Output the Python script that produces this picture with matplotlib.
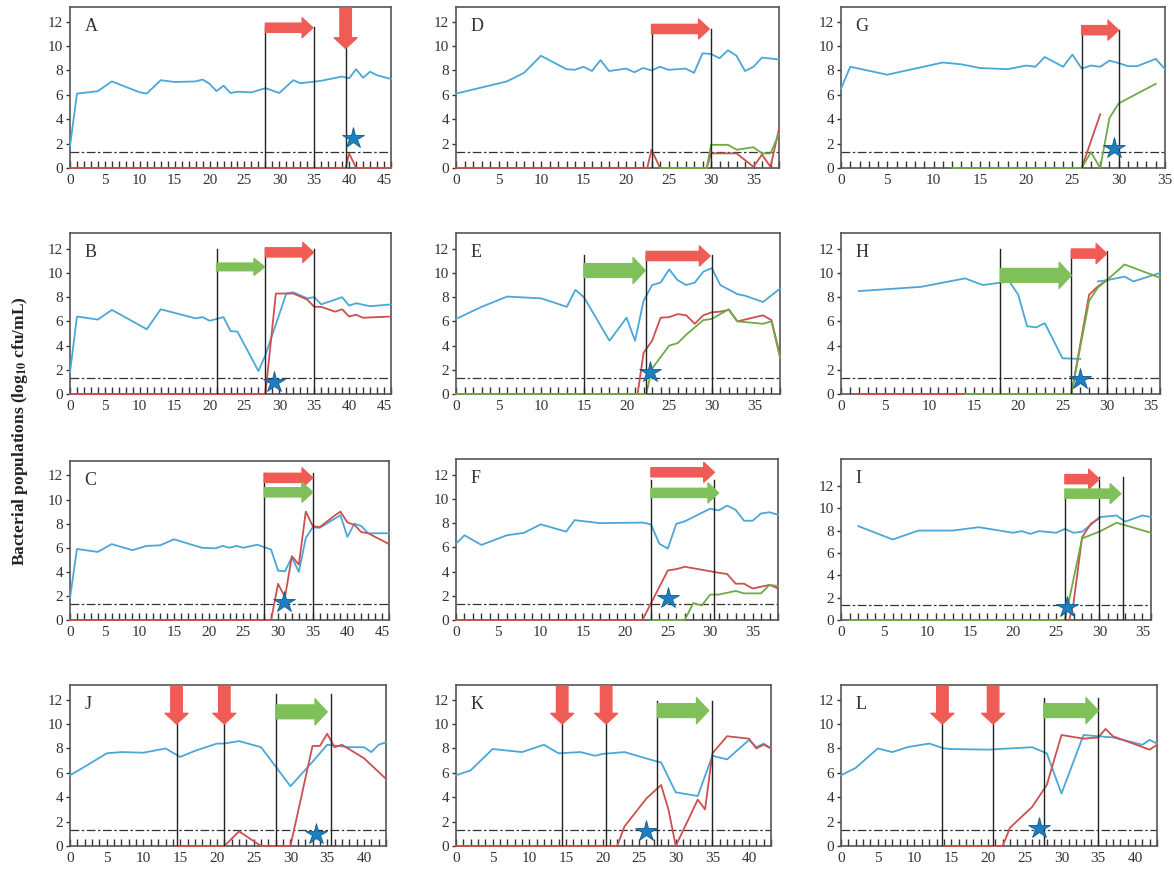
import matplotlib
matplotlib.use("Agg")
import matplotlib.pyplot as plt
import numpy as np

plt.rcParams['font.family'] = ['Liberation Serif', 'DejaVu Serif']
plt.rcParams['mathtext.fontset'] = 'stix'

BLUE = '#4aa7d8'
RED = '#cc5050'
GREEN = '#6faa45'
RED_ARROW = '#ef5c55'
GREEN_ARROW = '#80c05a'
STAR = '#1b80c2'

# ---- data (day, log10 cfu/mL) ----
a_blue_x = [0, 1, 4, 6, 10, 11, 13, 15, 18, 19, 20, 21, 22, 23, 24, 26, 28, 30, 32, 33, 36, 39, 40, 41, 42, 43, 44, 46]
a_blue_y = [1.8, 6.1, 6.3, 7.1, 6.2, 6.1, 7.2, 7.05, 7.1, 7.25, 6.9, 6.3, 6.75, 6.15, 6.25, 6.2, 6.55, 6.15, 7.2, 6.95, 7.15, 7.5, 7.35, 8.1, 7.4, 7.9, 7.6, 7.3]
a_red_x = [0, 39.5, 40, 41, 46]
a_red_y = [0, 0, 1.2, 0, 0]

b_blue_x = [0, 1, 4, 6, 11, 13, 18, 19, 20, 22, 23, 24, 27, 28, 31, 32, 34, 35, 36, 39, 40, 41, 43, 46]
b_blue_y = [1.8, 6.4, 6.15, 6.95, 5.35, 7.0, 6.25, 6.35, 6.05, 6.35, 5.2, 5.15, 1.9, 3.2, 8.3, 8.4, 7.9, 8.0, 7.4, 8.0, 7.3, 7.5, 7.25, 7.4]
b_red_x = [0, 28, 29.5, 32, 34, 35, 36, 38, 39, 40, 41, 42, 46]
b_red_y = [0, 0, 8.3, 8.3, 7.8, 7.2, 7.2, 6.8, 7.0, 6.4, 6.55, 6.3, 6.4]

c_blue_x = [0, 1, 4, 6, 9, 11, 13, 15, 17, 19, 21, 22, 23, 24, 25, 27, 28, 29, 30, 31, 32, 33, 34, 35, 36, 39, 40, 41, 42, 43, 46]
c_blue_y = [1.8, 5.9, 5.65, 6.3, 5.8, 6.15, 6.2, 6.7, 6.35, 6.0, 5.95, 6.15, 6.0, 6.15, 6.0, 6.25, 6.05, 5.85, 4.1, 4.05, 5.2, 4.0, 6.8, 7.7, 7.65, 8.7, 6.9, 8.0, 7.8, 7.2, 7.2]
c_red_x = [0, 29, 30, 31, 32, 33, 34, 35, 36, 38, 39, 40, 41, 42, 43, 46]
c_red_y = [0, 0, 3.0, 1.9, 5.3, 4.6, 9.0, 7.8, 7.7, 8.6, 9.0, 8.1, 7.9, 7.3, 7.2, 6.3]

d_blue_x = [0, 6, 8, 10, 13, 14, 15, 16, 17, 18, 20, 21, 22, 23, 24, 25, 27, 28, 29, 30, 31, 32, 33, 34, 35, 36, 38]
d_blue_y = [6.1, 7.1, 7.8, 9.2, 8.1, 8.05, 8.3, 7.95, 8.85, 7.95, 8.15, 7.85, 8.2, 8.0, 8.3, 8.05, 8.15, 7.8, 9.4, 9.35, 9.0, 9.65, 9.2, 7.95, 8.3, 9.05, 8.9]
d_red_x = [0, 22.5, 23, 24, 29.5, 30, 33, 35, 36, 37, 38]
d_red_y = [0, 0, 1.5, 0, 0, 1.2, 1.2, 0.1, 1.1, 0.1, 3.2]
d_green_x = [24, 29.5, 30, 32, 33, 35, 36, 37, 38]
d_green_y = [0, 0, 1.9, 1.9, 1.5, 1.7, 1.2, 1.2, 2.8]

e_blue_x = [0, 3, 6, 10, 13, 14, 15, 18, 20, 21, 22, 23, 24, 25, 26, 27, 28, 29, 30, 31, 33, 34, 36, 38]
e_blue_y = [6.2, 7.2, 8.05, 7.9, 7.2, 8.6, 8.0, 4.4, 6.3, 4.4, 7.7, 9.0, 9.2, 10.3, 9.4, 9.0, 9.2, 10.1, 10.4, 9.0, 8.25, 8.1, 7.6, 8.7]
e_red_x = [0, 21.3, 22, 23, 24, 25, 26, 27, 28, 29, 30, 31, 32, 33, 36, 37, 38]
e_red_y = [0, 0, 3.4, 4.4, 6.3, 6.35, 6.6, 6.5, 5.8, 6.5, 6.75, 6.8, 6.95, 6.0, 6.5, 6.1, 3.2]
e_green_x = [0, 22.3, 23, 25, 26, 27, 28, 29, 30, 31, 32, 33, 36, 37, 38]
e_green_y = [0, 0, 2.1, 4.0, 4.2, 4.9, 5.5, 6.1, 6.2, 6.6, 7.0, 6.0, 5.8, 6.0, 3.0]

f_blue_x = [0, 1, 3, 6, 8, 10, 13, 14, 17, 22, 23, 24, 25, 26, 27, 30, 31, 32, 33, 34, 35, 36, 37, 38]
f_blue_y = [6.3, 7.0, 6.2, 7.0, 7.2, 7.9, 7.3, 8.25, 8.0, 8.05, 7.9, 6.3, 5.9, 7.95, 8.15, 9.2, 9.05, 9.45, 9.1, 8.2, 8.2, 8.8, 8.9, 8.7]
f_red_x = [0, 22, 25, 26, 27, 31, 32, 33, 34, 35, 37, 38]
f_red_y = [0, 0, 4.1, 4.2, 4.4, 3.9, 3.8, 3.0, 3.0, 2.6, 2.9, 2.6]
f_green_x = [23, 27, 28, 29, 30, 31, 33, 34, 36, 37, 38]
f_green_y = [0, 0, 1.4, 1.2, 2.1, 2.1, 2.4, 2.2, 2.2, 2.9, 2.8]

g_blue_x = [0, 1, 5, 11, 13, 15, 18, 20, 21, 22, 24, 25, 26, 27, 28, 29, 30, 31, 32, 34, 35]
g_blue_y = [6.5, 8.3, 7.65, 8.65, 8.5, 8.2, 8.1, 8.4, 8.3, 9.1, 8.3, 9.3, 8.15, 8.4, 8.3, 8.8, 8.6, 8.35, 8.35, 8.95, 8.1]
g_red_x = [26, 28]
g_red_y = [0, 4.4]
g_green_x = [12, 26, 27, 28, 29, 30, 34]
g_green_y = [0, 0, 1.3, 0, 4.1, 5.3, 6.9]

h_blue_x = [2, 9, 14, 16, 19, 20, 21, 22, 23, 25, 27, np.nan, 29, 30, 32, 33, 36]
h_blue_y = [8.5, 8.85, 9.55, 9.0, 9.3, 8.2, 5.6, 5.5, 5.85, 2.95, 2.9, np.nan, 9.3, 9.4, 9.7, 9.3, 10.0]
h_red_x = [2, 14, 26, 28, 29, 30]
h_red_y = [0, 0, 0, 8.2, 8.9, 9.4]
h_green_x = [14, 26, 28, 29, 30, 32, 36]
h_green_y = [0, 0, 7.7, 8.8, 9.4, 10.7, 9.6]

i_blue_x = [2, 6, 9, 13, 16, 20, 21, 22, 23, 25, 26, 27, 28, 29, 30, 32, 33, 35, 36]
i_blue_y = [8.4, 7.2, 8.0, 8.0, 8.3, 7.8, 7.95, 7.7, 7.95, 7.8, 8.15, 7.8, 7.9, 8.5, 9.2, 9.35, 8.8, 9.35, 9.2]
i_red_x = [26.5, 27, 28, 29, 30]
i_red_y = [0, 1.5, 7.4, 8.6, 9.1]
i_green_x = [1, 26, 28, 30, 32, 36]
i_green_y = [0, 0, 7.3, 7.9, 8.7, 7.8]

j_blue_x = [0, 2, 5, 7, 10, 13, 15, 17, 20, 21, 23, 26, 28, 30, 33, 35, 38, 40, 41, 42, 43]
j_blue_y = [5.8, 6.5, 7.6, 7.7, 7.65, 8.0, 7.3, 7.8, 8.4, 8.4, 8.6, 8.1, 6.5, 4.9, 6.9, 8.3, 8.1, 8.1, 7.7, 8.3, 8.5]
j_red_x = [14.5, 21, 23, 26, 30, 33, 34, 35, 36, 37, 40, 43]
j_red_y = [0, 0, 1.2, 0, 0, 8.2, 8.2, 9.2, 8.1, 8.3, 7.2, 5.5]

k_blue_x = [0, 2, 5, 9, 12, 14, 17, 19, 20, 23, 27, 28, 30, 33, 35, 37, 40, 41, 42, 43]
k_blue_y = [5.8, 6.2, 7.95, 7.7, 8.3, 7.6, 7.7, 7.4, 7.55, 7.7, 7.0, 6.85, 4.4, 4.1, 7.4, 7.1, 8.7, 8.1, 8.4, 8.0]
k_red_x = [0, 22, 23, 26, 28, 29, 30, 33, 34, 35, 37, 40, 41, 42, 43]
k_red_y = [0, 0, 1.6, 3.9, 5.0, 3.0, 0, 3.8, 3.0, 7.6, 9.0, 8.8, 8.0, 8.3, 8.0]

l_blue_x = [0, 1, 2, 5, 7, 9, 12, 14, 15, 20, 23, 26, 28, 30, 33, 35, 37, 41, 42, 43]
l_blue_y = [5.8, 6.1, 6.4, 8.0, 7.7, 8.1, 8.4, 8.0, 7.95, 7.9, 8.0, 8.1, 7.6, 4.3, 9.1, 9.0, 8.9, 8.3, 8.7, 8.4]
l_red_x = [14, 22, 23, 26, 28, 30, 33, 35, 36, 37, 42, 43]
l_red_y = [0, 0, 1.5, 3.2, 5.0, 9.1, 8.8, 8.9, 9.6, 9.0, 7.9, 8.3]

# star markers (day, value)
star_pts = {'A': (40.5, 2.5), 'B': (29.3, 1.0), 'C': (30.8, 1.5), 'D': None,
            'E': (22.7, 1.8), 'F': (25, 1.8), 'G': (29.5, 1.6), 'H': (27, 1.2),
            'I': (26.2, 1.2), 'J': (33.5, 1.0), 'K': (26, 1.2), 'L': (27, 1.5)}
detect_limit = 1.3

W, H = 1174, 871
fig = plt.figure(figsize=(W / 100, H / 100), dpi=100)


def pos(l, r, t, b):
    return [l / W, 1 - b / H, (r - l) / W, (b - t) / H]


# panel: (letter, xlim, ymax, box px, series, vlines(x, top), arrows(x0, x1, y, color, kind))
panels = [
    ('A', 46, 13.2, (70, 391, 7, 168),
     [(a_blue_x, a_blue_y, BLUE), (a_red_x, a_red_y, RED)],
     [(28, 11.6), (35, 11.6), (39.5, 10.0)],
     [(28, 34.8, 11.5, RED_ARROW, 'h'), (39.5, 39.5, 9.8, RED_ARROW, 'v')]),
    ('D', 38, 13.2, (456, 779, 7, 168),
     [(d_blue_x, d_blue_y, BLUE), (d_red_x, d_red_y, RED), (d_green_x, d_green_y, GREEN)],
     [(23, 11.4), (30, 11.4)],
     [(23, 29.8, 11.4, RED_ARROW, 'h')]),
    ('G', 35, 13.2, (841, 1165, 7, 168),
     [(g_blue_x, g_blue_y, BLUE), (g_red_x, g_red_y, RED), (g_green_x, g_green_y, GREEN)],
     [(26, 11.3), (30, 11.3)],
     [(26, 30, 11.3, RED_ARROW, 'h')]),
    ('B', 46, 13.3, (70, 391, 233, 394),
     [(b_blue_x, b_blue_y, BLUE), (b_red_x, b_red_y, RED)],
     [(21, 12.0), (28, 12.0), (35, 12.0)],
     [(21, 27.9, 10.5, GREEN_ARROW, 'hs'), (28, 34.9, 11.7, RED_ARROW, 'h')]),
    ('E', 38, 13.3, (456, 780, 233, 394),
     [(e_blue_x, e_blue_y, BLUE), (e_red_x, e_red_y, RED), (e_green_x, e_green_y, GREEN)],
     [(15, 11.5), (22.3, 11.5), (30, 11.5)],
     [(15, 22.2, 10.2, GREEN_ARROW, 'hb'), (22.3, 29.8, 11.4, RED_ARROW, 'h')]),
    ('H', 36, 13.3, (841, 1160, 233, 394),
     [(h_blue_x, h_blue_y, BLUE), (h_red_x, h_red_y, RED), (h_green_x, h_green_y, GREEN)],
     [(18, 12.0), (26, 11.8), (30, 11.8)],
     [(18, 26, 9.8, GREEN_ARROW, 'hb'), (26, 30, 11.6, RED_ARROW, 'h')]),
    ('C', 46, 13.2, (70, 389, 461, 620),
     [(c_blue_x, c_blue_y, BLUE), (c_red_x, c_red_y, RED)],
     [(28, 12.2), (35, 12.2)],
     [(28, 35, 11.8, RED_ARROW, 'h'), (28, 35, 10.6, GREEN_ARROW, 'h')]),
    ('F', 38, 13.3, (456, 778, 459, 620),
     [(f_blue_x, f_blue_y, BLUE), (f_red_x, f_red_y, RED), (f_green_x, f_green_y, GREEN)],
     [(23, 11.6), (30.5, 11.6)],
     [(23, 30.5, 12.2, RED_ARROW, 'h'), (23, 31, 10.5, GREEN_ARROW, 'h')]),
    ('I', 36, 14.4, (841, 1151, 459, 620),
     [(i_blue_x, i_blue_y, BLUE), (i_red_x, i_red_y, RED), (i_green_x, i_green_y, GREEN)],
     [(26, 11.3), (30, 12.8), (32.8, 12.8)],
     [(26, 30, 12.6, RED_ARROW, 'h'), (26, 32.5, 11.3, GREEN_ARROW, 'h')]),
    ('J', 43, 13.2, (70, 386, 685, 846),
     [(j_blue_x, j_blue_y, BLUE), (j_red_x, j_red_y, RED)],
     [(14.5, 10.2), (21, 10.2), (28, 12.5), (35.5, 12.5)],
     [(14.5, 14.5, 10.0, RED_ARROW, 'v'), (21, 21, 10.0, RED_ARROW, 'v'),
      (28, 35, 11.0, GREEN_ARROW, 'hb')]),
    ('K', 43, 13.2, (456, 771, 685, 846),
     [(k_blue_x, k_blue_y, BLUE), (k_red_x, k_red_y, RED)],
     [(14.5, 10.2), (20.5, 10.2), (27.5, 11.9), (35, 11.9)],
     [(14.5, 14.5, 10.0, RED_ARROW, 'v'), (20.5, 20.5, 10.0, RED_ARROW, 'v'),
      (27.5, 34.5, 11.1, GREEN_ARROW, 'hb')]),
    ('L', 43, 13.2, (841, 1157, 685, 846),
     [(l_blue_x, l_blue_y, BLUE), (l_red_x, l_red_y, RED)],
     [(13.8, 10.2), (20.7, 10.2), (27.6, 12.1), (35, 12.1)],
     [(13.8, 13.8, 10.0, RED_ARROW, 'v'), (20.7, 20.7, 10.0, RED_ARROW, 'v'),
      (27.6, 35, 11.1, GREEN_ARROW, 'hb')]),
]

arrow_styles = {
    'h': "simple,head_length=0.7,head_width=1.3,tail_width=0.6",
    'hs': "simple,head_length=0.7,head_width=1.1,tail_width=0.5",
    'hb': "simple,head_length=0.8,head_width=1.7,tail_width=0.9",
    'v': "simple,head_length=0.7,head_width=1.5,tail_width=0.75",
}

for letter, xmax, ymax, box, series, vlines, arrows in panels:
    ax = fig.add_axes(pos(*box))
    ax.set_xlim(0, xmax)
    ax.set_ylim(0, ymax)
    for xs, ys, col in series:
        ax.plot(xs, ys, color=col, lw=1.3, clip_on=False, zorder=3)
    ax.axhline(detect_limit, color='#333333', lw=0.9, ls=(0, (7, 2, 2, 2)), zorder=2)
    for vx, top in vlines:
        ax.plot([vx, vx], [0, top], color='#222222', lw=1.0, zorder=4)
    for x0, x1, y, col, kind in arrows:
        if kind == 'v':
            ax.annotate('', xy=(x0, y), xytext=(x0, ymax - 0.1),
                        arrowprops=dict(arrowstyle=arrow_styles[kind], fc=col, ec=col,
                                        mutation_scale=11, shrinkA=0, shrinkB=0),
                        annotation_clip=False, zorder=5)
        else:
            ax.annotate('', xy=(x1, y), xytext=(x0, y),
                        arrowprops=dict(arrowstyle=arrow_styles[kind], fc=col, ec=col,
                                        mutation_scale=11, shrinkA=0, shrinkB=0),
                        zorder=5)
    st = star_pts[letter]
    if st is not None:
        ax.plot(st[0], st[1], marker='*', ms=16, color=STAR, mec='#145a8a', mew=0.6,
                zorder=6, clip_on=False)
    ax.text(0.045, 0.93, letter, transform=ax.transAxes,
            fontsize=13, color='#333333', va='top', ha='left')
    ax.set_xticks(np.arange(0, xmax + 0.1, 5))
    ax.set_xticks(np.arange(0, xmax + 0.1, 1), minor=True)
    ax.set_yticks(np.arange(0, 12.1, 2))
    ax.tick_params(axis='x', which='both', direction='in', length=5, width=1.0,
                   color='#333333', labelsize=11, pad=4)
    ax.tick_params(axis='y', which='both', direction='out', length=3, width=1.0,
                   color='#333333', labelsize=11, pad=2)
    for lab in ax.get_xticklabels() + ax.get_yticklabels():
        lab.set_color('#3a3030')
    for sp in ax.spines.values():
        sp.set_color('#555555')
        sp.set_linewidth(1.2)

fig.text(0.017, 0.505, r'Bacterial populations (log$_{\mathbf{10}}$ cfu/mL)',
         rotation=90, ha='center', va='center', fontsize=12.5, fontweight='bold',
         color='#222222')

fig.savefig('out.png', dpi=100)
